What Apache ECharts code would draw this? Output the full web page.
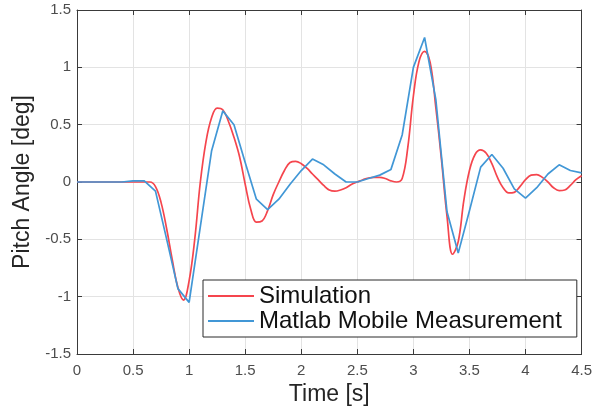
<!DOCTYPE html>
<html>
<head>
<meta charset="utf-8">
<script src="https://cdn.jsdelivr.net/npm/echarts@6/dist/echarts.min.js"></script>
<style>
  html, body { margin: 0; padding: 0; background: #fff; }
  #chart { width: 595px; height: 411px; }
</style>
</head>
<body>
<div id="chart"></div>
<script>
// simulation, sampled every 0.05 s
const simTime = [0, 0.05, 0.1, 0.15, 0.2, 0.25, 0.3, 0.35, 0.4, 0.45, 0.5, 0.55, 0.6, 0.65, 0.7, 0.75, 0.8, 0.85, 0.9, 0.95,
  1.0, 1.05, 1.1, 1.15, 1.2, 1.25, 1.3, 1.35, 1.4, 1.45, 1.5, 1.55, 1.6, 1.65, 1.7, 1.75, 1.8, 1.85, 1.9, 1.95,
  2.0, 2.05, 2.1, 2.15, 2.2, 2.25, 2.3, 2.35, 2.4, 2.45, 2.5, 2.55, 2.6, 2.65, 2.7, 2.75, 2.8, 2.85, 2.9, 2.95,
  3.0, 3.05, 3.1, 3.15, 3.2, 3.25, 3.3, 3.35, 3.4, 3.45, 3.5, 3.55, 3.6, 3.65, 3.7, 3.75, 3.8, 3.85, 3.9, 3.95,
  4.0, 4.05, 4.1, 4.15, 4.2, 4.25, 4.3, 4.35, 4.4, 4.45, 4.5]
const simAngle = [0, 0, 0, 0, 0, 0, 0, 0, 0, 0, 0, 0, 0, 0, -0.04, -0.18, -0.41, -0.68, -0.92, -1.03,
  -0.86, -0.5, 0.0, 0.35, 0.56, 0.645, 0.63, 0.53, 0.39, 0.22, -0.02, -0.24, -0.35, -0.34, -0.25, -0.11, 0.0, 0.1, 0.17, 0.18,
  0.16, 0.12, 0.07, 0.02, -0.03, -0.07, -0.08, -0.07, -0.05, -0.02, 0.0, 0.02, 0.035, 0.04, 0.04, 0.03, 0.01, 0.0, 0.03, 0.3,
  0.75, 1.05, 1.14, 1.04, 0.65, 0.2, -0.3, -0.63, -0.52, -0.16, 0.1, 0.24, 0.28, 0.25, 0.16, 0.04, -0.05, -0.095, -0.09, -0.04,
  0.02, 0.06, 0.065, 0.04, 0.0, -0.05, -0.075, -0.07, -0.03, 0.02, 0.055]

// measurement, sampled every 0.1 s
const measTime = [0, 0.1, 0.2, 0.3, 0.4, 0.5, 0.6, 0.7, 0.8, 0.9, 1.0, 1.1, 1.2, 1.3, 1.4, 1.5, 1.6, 1.7, 1.8, 1.9,
  2.0, 2.1, 2.2, 2.3, 2.4, 2.5, 2.6, 2.7, 2.8, 2.9, 3.0, 3.1, 3.2, 3.3, 3.4, 3.5, 3.6, 3.7, 3.8, 3.9,
  4.0, 4.1, 4.2, 4.3, 4.4, 4.5]
const measAngle = [0, 0, 0, 0, 0, 0.01, 0.01, -0.08, -0.5, -0.93, -1.05, -0.39, 0.27, 0.62, 0.5, 0.17, -0.15, -0.24, -0.15, -0.02,
  0.1, 0.2, 0.15, 0.07, 0.0, 0.0, 0.03, 0.06, 0.11, 0.41, 1.0, 1.26, 0.72, -0.26, -0.62, -0.25, 0.13, 0.24, 0.12, -0.06,
  -0.14, -0.05, 0.07, 0.15, 0.1, 0.08]

const xTicks = [0, 0.5, 1, 1.5, 2, 2.5, 3, 3.5, 4, 4.5]
const yTicks = [-1.5, -1, -0.5, 0, 0.5, 1, 1.5]

const font = 'Liberation Sans, Arial, sans-serif'
const gridLine = { show: true, lineStyle: { color: '#e3e3e3', width: 1 } }
const boxLine = { show: true, onZero: false, lineStyle: { color: '#3a3a3a', width: 1 } }
const inTick = { show: true, inside: true, length: 5, lineStyle: { color: '#3a3a3a' } }

const chart = echarts.init(document.getElementById('chart'))
chart.setOption({
  animation: false,
  backgroundColor: '#fff',
  grid: { left: 77, right: 11, top: 10, bottom: 55 },
  legend: {
    orient: 'vertical',
    left: 203,
    top: 280,
    backgroundColor: '#fff',
    borderColor: '#2b2b2b',
    borderWidth: 1,
    borderRadius: 0,
    padding: [4, 15, 4, 5],
    itemGap: 1,
    itemWidth: 46,
    itemHeight: 2,
    icon: 'rect',
    textStyle: { fontFamily: font, fontSize: 24, color: '#111', padding: [0, 0, 0, 0] },
    data: ['Simulation', 'Matlab Mobile Measurement']
  },
  xAxis: [{
    type: 'value',
    min: xTicks[0],
    max: xTicks[xTicks.length - 1],
    interval: 0.5,
    name: 'Time [s]',
    nameLocation: 'middle',
    nameGap: 29,
    nameTextStyle: { fontFamily: font, fontSize: 23, color: '#262626' },
    axisLine: boxLine,
    axisTick: inTick,
    splitLine: gridLine,
    axisLabel: { fontFamily: font, fontSize: 15, color: '#4d4d4d', margin: 9, showMaxLabel: true }
  }, {
    type: 'value',
    position: 'top',
    min: xTicks[0],
    max: xTicks[xTicks.length - 1],
    interval: 0.5,
    axisLine: boxLine,
    axisTick: inTick,
    splitLine: { show: false },
    axisLabel: { show: false }
  }],
  yAxis: [{
    type: 'value',
    min: yTicks[0],
    max: yTicks[yTicks.length - 1],
    interval: 0.5,
    name: 'Pitch Angle [deg]',
    nameLocation: 'middle',
    nameGap: 40,
    nameTextStyle: { fontFamily: font, fontSize: 23, color: '#262626' },
    axisLine: boxLine,
    axisTick: inTick,
    splitLine: gridLine,
    axisLabel: { fontFamily: font, fontSize: 15, color: '#4d4d4d', margin: 6 }
  }, {
    type: 'value',
    position: 'right',
    min: yTicks[0],
    max: yTicks[yTicks.length - 1],
    interval: 0.5,
    axisLine: boxLine,
    axisTick: inTick,
    splitLine: { show: false },
    axisLabel: { show: false }
  }],
  series: [
    {
      name: 'Simulation',
      type: 'line',
      smooth: 0.4,
      showSymbol: false,
      color: '#f5454d',
      lineStyle: { width: 1.7, color: '#f5454d' },
      data: simTime.map((t, i) => [t, simAngle[i]])
    },
    {
      name: 'Matlab Mobile Measurement',
      type: 'line',
      showSymbol: false,
      color: '#4197d6',
      lineStyle: { width: 1.7, color: '#4197d6' },
      data: measTime.map((t, i) => [t, measAngle[i]])
    }
  ]
})
</script>
</body>
</html>
